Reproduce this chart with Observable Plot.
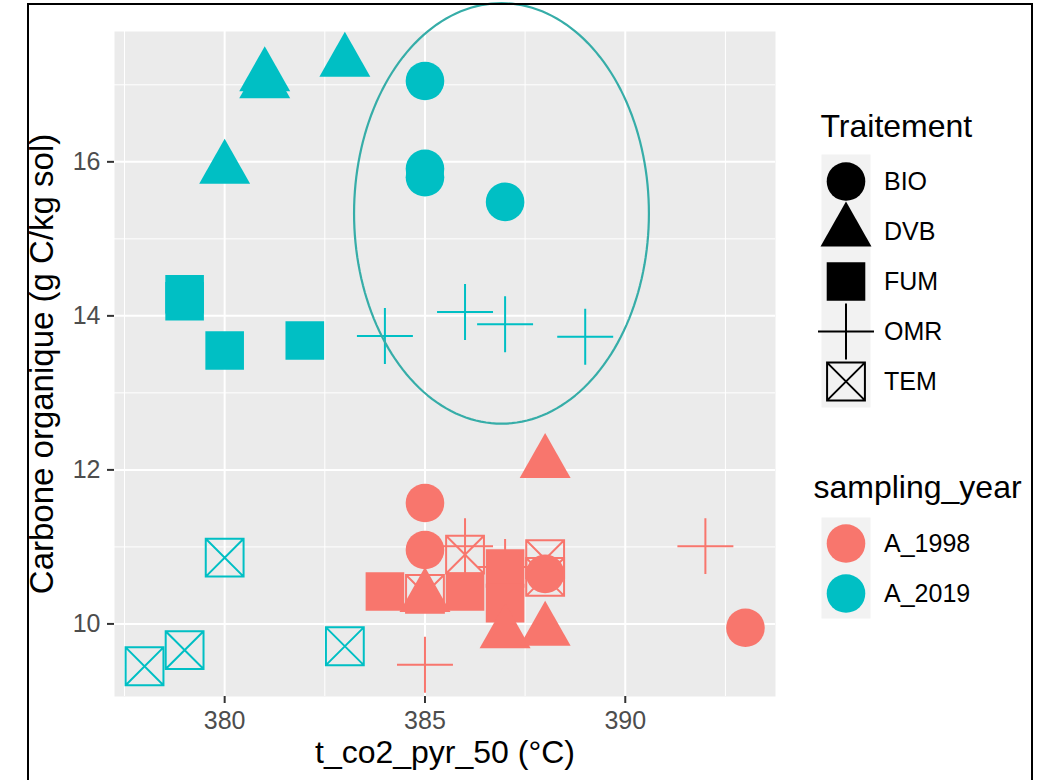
<!DOCTYPE html>
<html><head><meta charset="utf-8">
<script src="https://cdn.jsdelivr.net/npm/d3@7"></script>
<script src="https://cdn.jsdelivr.net/npm/@observablehq/plot@0.6"></script>
<style>
html,body{margin:0;padding:0;background:#fff;overflow:hidden;width:1043px;height:780px;}
#wrap{position:relative;width:1043px;height:780px;font-family:"Liberation Sans",Arial,sans-serif;}
#border{position:absolute;left:27px;top:3px;width:1006px;height:900px;border:2px solid #000;box-sizing:border-box;pointer-events:none}
#chart{position:absolute;left:0;top:0}
#leg1{position:absolute;left:800px;top:100px}
#leg2{position:absolute;left:800px;top:440px}
svg{overflow:visible}
</style></head><body>
<div id="wrap"><div id="chart"></div><div id="leg1"></div><div id="leg2"></div><div id="border"></div></div>
<script>
// ---- data ----
const samplingYear = [
  "A_2019","A_2019","A_2019","A_2019","A_2019","A_2019","A_2019","A_2019","A_2019","A_2019",
  "A_2019","A_2019","A_2019","A_2019","A_2019","A_2019","A_2019","A_2019","A_2019","A_2019",
  "A_1998","A_1998","A_1998","A_1998","A_1998","A_1998","A_1998","A_1998","A_1998","A_1998",
  "A_1998","A_1998","A_1998","A_1998","A_1998","A_1998","A_1998","A_1998","A_1998","A_1998"
];
const traitement = [
  "BIO","BIO","BIO","BIO","DVB","DVB","DVB","DVB","FUM","FUM",
  "FUM","FUM","OMR","OMR","OMR","OMR","TEM","TEM","TEM","TEM",
  "BIO","BIO","BIO","BIO","DVB","DVB","DVB","DVB","FUM","FUM",
  "FUM","FUM","OMR","OMR","OMR","OMR","TEM","TEM","TEM","TEM"
];
const tCo2Pyr50 = [
  385,385,385,387,381,381,383,380,379,379,
  380,382,384,386,387,389,380,378,379,383,
  385,385,388,393,385,387,388,388,384,386,
  387,387,386,387,385,392,385,386,388,388
];
const carboneOrganique = [
  17.05,15.91,15.80,15.48,17.11,17.02,17.30,15.91,14.28,14.19,
  13.55,13.68,13.74,14.05,13.89,13.73,10.86,9.45,9.66,9.71,
  11.57,10.96,10.65,9.95,10.35,9.88,9.91,12.09,10.42,10.42,
  10.72,10.27,11.01,10.74,9.47,11.01,10.39,10.90,10.84,10.61
];
const treatments = ["BIO","DVB","FUM","OMR","TEM"];
const years = ["A_1998","A_2019"];
const yearColors = ["#F8766D","#00BFC4"];
const xMajorTicks = [380,385,390];
const xMinorTicks = [377.5,382.5,387.5,392.5];
const yMajorTicks = [10,12,14,16];
const yMinorTicks = [9,11,13,15,17];
const xTitle = "t_co2_pyr_50 (°C)";
const yTitle = "Carbone organique (g C/kg sol)";
const ellipseCenter = [386.91, 15.33];
const ellipseRadii = [3.68, 2.73];

const rows = tCo2Pyr50.map((x, i) => ({x, y: carboneOrganique[i], t: traitement[i], year: samplingYear[i]}));

// ---- symbols (ggplot shapes 16,17,15,3,7) ----
const Rof = s => Math.sqrt(s / Math.PI);
const symCircle = {draw(c, s){ const r = Rof(s); c.moveTo(r,0); c.arc(0,0,r,0,2*Math.PI); c.closePath(); }};
const symTriangle = {draw(c, s){ const r = Rof(s); c.moveTo(0,-1.555*r); c.lineTo(1.32*r,0.778*r); c.lineTo(-1.32*r,0.778*r); c.closePath(); }};
const symSquare = {draw(c, s){ const h = Rof(s)*1.0; c.rect(-h,-h,2*h,2*h); }};
const symPlus = {draw(c, s){ const h = Rof(s)*1.45; c.moveTo(-h,0); c.lineTo(h,0); c.moveTo(0,-h); c.lineTo(0,h); }};
const symBoxX = {draw(c, s){ const h = Rof(s)*0.98; c.rect(-h,-h,2*h,2*h); c.moveTo(-h,-h); c.lineTo(h,h); c.moveTo(h,-h); c.lineTo(-h,h); }};
const shapeOf = {BIO: symCircle, DVB: symTriangle, FUM: symSquare, OMR: symPlus, TEM: symBoxX};
const filledOf = {BIO: true, DVB: true, FUM: true, OMR: false, TEM: false};
const R = 19.3;

function dotsFor(t, data, xAcc, yAcc, colorAcc) {
  const o = {x: xAcc, y: yAcc, r: R, symbol: shapeOf[t]};
  if (filledOf[t]) { o.fill = colorAcc; o.stroke = "none"; }
  else { o.fill = "none"; o.stroke = colorAcc; o.strokeWidth = 2; }
  return Plot.dot(data, o);
}

// ---- domains: ggplot 5% expansion of data range ----
const xe = d3.extent(tCo2Pyr50), ye = d3.extent(carboneOrganique);
const xd = [xe[0] - 0.05*(xe[1]-xe[0]), xe[1] + 0.05*(xe[1]-xe[0])];
const yd = [ye[0] - 0.05*(ye[1]-ye[0]), ye[1] + 0.05*(ye[1]-ye[0])];

const ellipsePts = d3.range(0, 360, 2).map(a => ({
  x: ellipseCenter[0] + ellipseRadii[0]*Math.cos(a*Math.PI/180),
  y: ellipseCenter[1] + ellipseRadii[1]*Math.sin(a*Math.PI/180)
}));

const drawOrder = ["TEM","OMR","BIO","FUM","DVB"];
const font = "Liberation Sans, Arial, sans-serif";
const intFmt = d3.format("d");

const chart = Plot.plot({
  width: 1043, height: 780,
  marginLeft: 114, marginRight: 268, marginTop: 31, marginBottom: 84,
  x: {domain: xd},
  y: {domain: yd},
  color: {domain: years, range: yearColors},
  style: {fontFamily: font, background: "transparent", overflow: "visible"},
  marks: [
    Plot.frame({fill: "#EBEBEB", stroke: "none"}),
    Plot.gridX(xMinorTicks, {stroke: "white", strokeOpacity: 1, strokeWidth: 1}),
    Plot.gridY(yMinorTicks, {stroke: "white", strokeOpacity: 1, strokeWidth: 1}),
    Plot.gridX(xMajorTicks, {stroke: "white", strokeOpacity: 1, strokeWidth: 2}),
    Plot.gridY(yMajorTicks, {stroke: "white", strokeOpacity: 1, strokeWidth: 2}),
    Plot.axisX(xMajorTicks, {tickSize: 7, tickPadding: 8, strokeWidth: 2, stroke: "#333333", color: "#4D4D4D", fill: "#4D4D4D", fontSize: 25, label: null, tickFormat: intFmt}),
    Plot.axisY(yMajorTicks, {tickSize: 7, tickPadding: 7, strokeWidth: 2, stroke: "#333333", color: "#4D4D4D", fill: "#4D4D4D", fontSize: 25, label: null, tickFormat: intFmt}),
    Plot.text([xTitle], {text: d => d, frameAnchor: "bottom", lineAnchor: "bottom", dy: 66, fontSize: 32, fill: "black"}),
    Plot.text([yTitle], {text: d => d, frameAnchor: "left", rotate: -90, lineAnchor: "bottom", textAnchor: "middle", dx: -62, fontSize: 33, fill: "black"}),
    ...drawOrder.map(t => dotsFor(t, rows.filter(d => d.t === t), "x", "y", "year")),
    Plot.line(ellipsePts, {x: "x", y: "y", curve: "linear-closed", stroke: "#36ADA8", strokeWidth: 2.2, fill: "none"})
  ]
});
document.getElementById("chart").appendChild(chart);

// ---- legend: Traitement ----
const leg1 = Plot.plot({
  width: 240, height: 320,
  marginLeft: 21, marginRight: 170, marginTop: 54, marginBottom: 13,
  x: {type: "band", domain: ["key"], padding: 0, axis: null},
  y: {type: "band", domain: treatments, padding: 0, axis: null},
  style: {fontFamily: font, background: "transparent", overflow: "visible"},
  marks: [
    Plot.frame({fill: "#F2F2F2", stroke: "none"}),
    ...treatments.map(t => dotsFor(t, [t], () => "key", d => d, "black")),
    Plot.text(treatments, {x: () => "key", y: d => d, text: d => d, textAnchor: "start", dx: 38, fontSize: 25, fill: "black"}),
    Plot.text(["Traitement"], {text: d => d, frameAnchor: "top-left", lineAnchor: "bottom", dx: -1, dy: -18, fontSize: 32, fill: "black"})
  ]
});
document.getElementById("leg1").appendChild(leg1);

// ---- legend: sampling_year ----
const leg2 = Plot.plot({
  width: 240, height: 190,
  marginLeft: 21, marginRight: 170, marginTop: 77, marginBottom: 12,
  x: {type: "band", domain: ["key"], padding: 0, axis: null},
  y: {type: "band", domain: years, padding: 0, axis: null},
  color: {domain: years, range: yearColors},
  style: {fontFamily: font, background: "transparent", overflow: "visible"},
  marks: [
    Plot.frame({fill: "#F2F2F2", stroke: "none"}),
    Plot.dot(years, {x: () => "key", y: d => d, fill: d => d, r: R, symbol: symCircle}),
    Plot.text(years, {x: () => "key", y: d => d, text: d => d, textAnchor: "start", dx: 38, fontSize: 25, fill: "black"}),
    Plot.text(["sampling_year"], {text: d => d, frameAnchor: "top-left", lineAnchor: "bottom", dx: -8, dy: -20, fontSize: 32, fill: "black"})
  ]
});
document.getElementById("leg2").appendChild(leg2);
</script>
</body></html>
